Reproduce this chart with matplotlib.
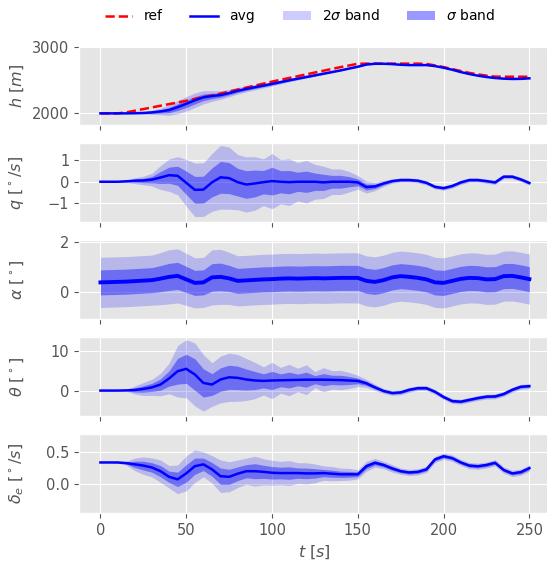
import numpy as np
import matplotlib
matplotlib.use("Agg")
import matplotlib.pyplot as plt

# time axis, read every 5 s
t = np.arange(0, 251, 5)

h_ref = [2000, 2000, 2000, 2015, 2040, 2065, 2090, 2115, 2140, 2165,
         2190, 2218, 2245, 2272, 2300, 2330, 2360, 2390, 2420, 2450,
         2480, 2508, 2535, 2562, 2590, 2618, 2645, 2672, 2700, 2725,
         2750, 2752, 2752, 2752, 2752, 2752, 2752, 2752, 2748, 2725,
         2700, 2670, 2640, 2612, 2590, 2570, 2556, 2554, 2554, 2554, 2554]
h_avg = [2000, 2000, 2000, 2000, 2002, 2006, 2015, 2030, 2050, 2094,
         2144, 2198, 2243, 2262, 2277, 2307, 2342, 2370, 2396, 2420,
         2446, 2473, 2500, 2525, 2550, 2575, 2600, 2625, 2650, 2678,
         2705, 2738, 2750, 2750, 2745, 2735, 2730, 2730, 2730, 2715,
         2690, 2660, 2625, 2595, 2570, 2550, 2535, 2525, 2520, 2522, 2530]
h_sig = [0, 0, 0, 0, 3, 8, 15, 25, 40, 50,
         55, 55, 50, 40, 32, 28, 25, 22, 20, 18,
         16, 14, 12, 10, 9, 8, 7, 6, 5, 4,
         3, 3, 2, 2, 2, 2, 2, 2, 2, 2,
         2, 2, 2, 2, 2, 2, 2, 2, 2, 2, 2]

q_avg = [0, 0, 0, 0.02, 0.05, 0.06, 0.1, 0.2, 0.31, 0.28,
         -0.05, -0.38, -0.37, -0.03, 0.21, 0.17, -0.02, -0.13, -0.08, -0.02,
         0.03, 0.0, -0.02, 0.0, 0.0, 0.0, -0.03, 0.0, 0.0, 0.0,
         -0.03, -0.25, -0.22, -0.08, 0.03, 0.08, 0.08, 0.05, -0.05, -0.24,
         -0.3, -0.2, -0.03, 0.08, 0.08, 0.03, -0.03, 0.24, 0.24, 0.11, -0.06]
q_sig = [0, 0, 0.005, 0.02, 0.07, 0.1, 0.15, 0.28, 0.38, 0.45,
         0.55, 0.63, 0.63, 0.68, 0.75, 0.73, 0.65, 0.65, 0.63, 0.55,
         0.65, 0.52, 0.55, 0.45, 0.5, 0.41, 0.38, 0.3, 0.3, 0.24,
         0.16, 0.14, 0.1, 0.07, 0.05, 0.05, 0.05, 0.05, 0.05, 0.05,
         0.05, 0.05, 0.05, 0.05, 0.05, 0.05, 0.05, 0.05, 0.05, 0.05, 0.05]

alpha_avg = [0.4, 0.41, 0.42, 0.43, 0.45, 0.47, 0.49, 0.55, 0.62, 0.66,
             0.52, 0.38, 0.4, 0.6, 0.62, 0.56, 0.46, 0.48, 0.5, 0.52,
             0.53, 0.55, 0.56, 0.55, 0.56, 0.57, 0.56, 0.57, 0.58, 0.58,
             0.58, 0.46, 0.42, 0.49, 0.6, 0.65, 0.62, 0.58, 0.52, 0.4,
             0.38, 0.46, 0.54, 0.58, 0.57, 0.52, 0.53, 0.65, 0.66, 0.6, 0.53]
alpha_sig = [0.5, 0.5, 0.5, 0.5, 0.5, 0.5, 0.5, 0.52, 0.54, 0.54,
             0.52, 0.5, 0.5, 0.55, 0.55, 0.52, 0.5, 0.5, 0.5, 0.5,
             0.5, 0.5, 0.5, 0.5, 0.5, 0.5, 0.5, 0.5, 0.5, 0.5,
             0.5, 0.5, 0.5, 0.5, 0.5, 0.5, 0.5, 0.5, 0.5, 0.5,
             0.5, 0.5, 0.5, 0.5, 0.5, 0.5, 0.5, 0.5, 0.5, 0.5, 0.5]

theta_avg = [0.2, 0.2, 0.2, 0.25, 0.35, 0.6, 1.0, 1.7, 3.2, 5.0,
             5.6, 4.2, 2.1, 1.7, 2.95, 3.5, 3.35, 2.95, 2.7, 2.6,
             2.7, 2.75, 2.8, 2.85, 2.9, 2.9, 2.9, 2.85, 2.8, 2.7,
             2.6, 2.0, 1.0, 0.1, -0.4, -0.25, 0.4, 0.8, 0.8, -0.1,
             -1.4, -2.4, -2.55, -2.1, -1.65, -1.3, -1.25, -0.65, 0.4, 1.15, 1.3]
theta_sig = [0, 0, 0, 0.1, 0.5, 0.8, 1.0, 1.4, 1.9, 3.2,
             3.6, 3.9, 3.5, 2.7, 2.9, 3.0, 2.9, 2.6, 2.25, 1.75,
             2.25, 1.6, 1.95, 1.45, 1.85, 1.0, 1.5, 1.15, 1.2, 1.0,
             0.7, 0.5, 0.4, 0.3, 0.3, 0.3, 0.3, 0.3, 0.3, 0.3,
             0.3, 0.3, 0.3, 0.3, 0.3, 0.3, 0.3, 0.3, 0.3, 0.3, 0.3]

de_avg = [0.34, 0.34, 0.34, 0.33, 0.31, 0.29, 0.26, 0.2, 0.11, 0.07,
          0.165, 0.28, 0.31, 0.23, 0.12, 0.11, 0.16, 0.2, 0.2, 0.19,
          0.175, 0.17, 0.17, 0.17, 0.165, 0.165, 0.17, 0.16, 0.15, 0.15,
          0.15, 0.28, 0.335, 0.3, 0.245, 0.2, 0.18, 0.19, 0.23, 0.39,
          0.44, 0.41, 0.34, 0.29, 0.28, 0.3, 0.335, 0.22, 0.165, 0.185, 0.25]
de_sig = [0, 0, 0.005, 0.015, 0.05, 0.07, 0.076, 0.09, 0.09, 0.115,
          0.14, 0.13, 0.1, 0.11, 0.13, 0.12, 0.11, 0.105, 0.12, 0.105,
          0.1, 0.093, 0.1, 0.083, 0.085, 0.075, 0.058, 0.057, 0.05, 0.047,
          0.037, 0.04, 0.035, 0.03, 0.03, 0.025, 0.025, 0.025, 0.025, 0.025,
          0.025, 0.025, 0.025, 0.025, 0.025, 0.025, 0.025, 0.025, 0.025, 0.025, 0.025]

panels = [
    (r"$h$ [$m$]", h_avg, h_sig, (1826, 3015), [2000, 3000]),
    (r"$q$ [$^\circ/s$]", q_avg, q_sig, (-1.89, 1.81), [-1, 0, 1]),
    (r"$\alpha$ [$^\circ$]", alpha_avg, alpha_sig, (-1.06, 2.08), [0, 2]),
    (r"$\theta$ [$^\circ$]", theta_avg, theta_sig, (-6.1, 13.4), [0, 10]),
    (r"$\delta_e$ [$^\circ/s$]", de_avg, de_sig, (-0.47, 0.79), [0.0, 0.5]),
]

plt.style.use("ggplot")
plt.rcParams["xtick.labelsize"] = 10.5
plt.rcParams["ytick.labelsize"] = 10.5
plt.rcParams["axes.labelsize"] = 11.5

fig, axes = plt.subplots(5, 1, sharex=True, figsize=(5.47, 5.64), dpi=100)
fig.subplots_adjust(left=0.1444, right=1.007, top=0.918, bottom=0.0904, hspace=0.234)

for i, (label, avg, sig, ylim, yticks) in enumerate(panels):
    ax = axes[i]
    avg = np.asarray(avg, dtype=float)
    sig = np.asarray(sig, dtype=float)
    ax.fill_between(t, avg - 2 * sig, avg + 2 * sig, color="blue", alpha=0.2,
                    lw=0, label=r"2$\sigma$ band")
    ax.fill_between(t, avg - sig, avg + sig, color="blue", alpha=0.4,
                    lw=0, label=r"$\sigma$ band")
    if i == 0:
        ax.plot(t, h_ref, "r--", lw=1.8, label="ref")
    ax.plot(t, avg, color="blue", lw=2.8 if i == 2 else 1.8, label="avg")
    ax.set_ylim(*ylim)
    ax.set_yticks(yticks)
    ax.set_ylabel(label)

axes[-1].set_xlabel(r"$t$ [$s$]")
axes[-1].set_xticks([0, 50, 100, 150, 200, 250])
axes[-1].set_xlim(-12.5, 262.5)

handles, labels = axes[0].get_legend_handles_labels()
order = [labels.index(k) for k in ["ref", "avg", r"2$\sigma$ band", r"$\sigma$ band"]]
axes[0].legend([handles[k] for k in order], [labels[k] for k in order],
               loc="center", bbox_to_anchor=(0.468, 1.385), ncol=4,
               frameon=False, fontsize=10)

fig.align_ylabels(axes)
fig.savefig("out.png", dpi=100)
